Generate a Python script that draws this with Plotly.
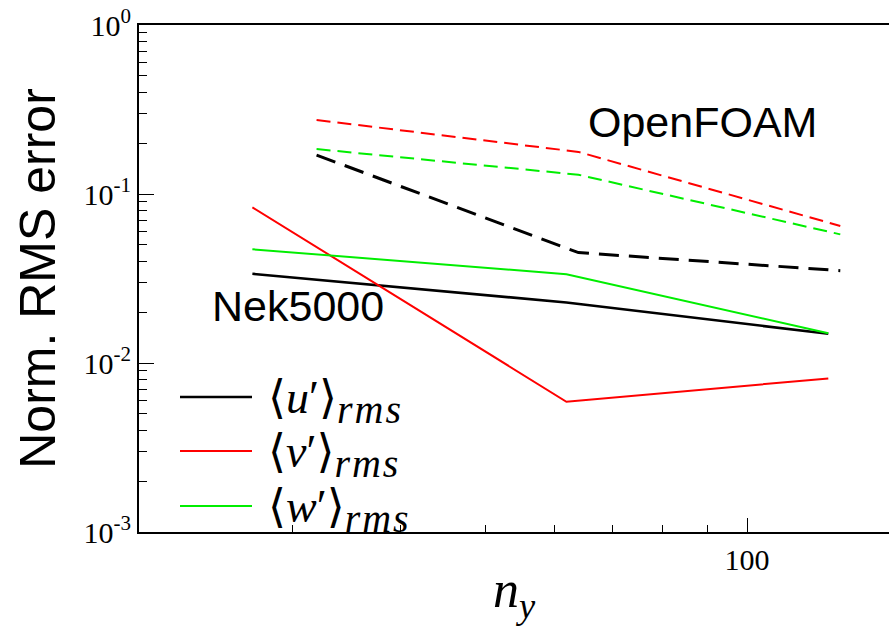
import plotly.graph_objects as go

# ---- data ----
ny_nek = [27, 62, 124]
nek_u = [0.0337, 0.0228, 0.0149]
nek_v = [0.0834, 0.0059, 0.0081]
nek_w = [0.0471, 0.0335, 0.0150]

ny_of = [32, 64, 128]
of_u = [0.170, 0.045, 0.0352]
of_v = [0.274, 0.1775, 0.0647]
of_w = [0.1845, 0.130, 0.0577]

SUB = "<sub><span style='font-size:40px;letter-spacing:2px'><i>rms</i></span></sub>"
legend_labels = ["⟨<i>u</i>′⟩" + SUB,
                 "⟨<i>v</i>′⟩" + SUB,
                 "⟨<i>w</i>′⟩" + SUB]
colors = ["#000000", "#ff0000", "#00ee00"]

x_major = [100]
x_major_text = ["100"]
x_minor = [30, 40, 50, 60, 70, 80, 90]
y_major = [0.001, 0.01, 0.1, 1]
y_major_text = ["10<sup>-3</sup>", "10<sup>-2</sup>", "10<sup>-1</sup>", "10<sup>0</sup>"]
y_minor = [m * 10 ** e for e in (-3, -2, -1) for m in range(2, 10)]

SERIF = "Liberation Serif, DejaVu Serif, serif"
SANS = "Liberation Sans, Arial, sans-serif"

fig = go.Figure()
nek_series = [nek_u, nek_v, nek_w]
of_series = [of_u, of_v, of_w]
widths = [2.6, 2, 2]
dashes = ["20px,10px", "14px,7px", "14px,7px"]
for i in range(3):
    fig.add_trace(go.Scatter(x=ny_nek, y=nek_series[i], mode="lines",
                             line=dict(color=colors[i], width=widths[i]),
                             showlegend=False))
    fig.add_trace(go.Scatter(x=ny_of, y=of_series[i], mode="lines",
                             line=dict(color=colors[i], width=widths[i] + (0.4 if i == 0 else 0),
                                       dash=dashes[i]),
                             showlegend=False))

W, H = 889, 626
L, R, T, B = 139, 0, 25, 94
pw, ph = W - L - R, H - T - B


def px(xp):
    return (xp - L) / pw


def py(yp):
    return (H - B - yp) / ph


# manual legend (keys + labels)
leg_y = [397, 451, 506]
for i in range(3):
    fig.add_shape(type="line", xref="paper", yref="paper",
                  x0=px(180), x1=px(252), y0=py(leg_y[i]), y1=py(leg_y[i]),
                  line=dict(color=colors[i], width=widths[i]))
    fig.add_annotation(xref="paper", yref="paper", x=px(266), y=py(leg_y[i] + 5),
                       xanchor="left", yanchor="middle", showarrow=False,
                       text=legend_labels[i], font=dict(family=SERIF, size=46, color="black"))

fig.add_annotation(xref="paper", yref="paper", x=px(298), y=py(306),
                   xanchor="center", yanchor="middle", showarrow=False,
                   text="Nek5000", font=dict(family=SANS, size=43, color="black"))
fig.add_annotation(xref="paper", yref="paper", x=px(702), y=py(122),
                   xanchor="center", yanchor="middle", showarrow=False,
                   text="OpenFOAM", font=dict(family=SANS, size=43, color="black"))

fig.update_xaxes(type="log", range=[1.30103, 2.1632], showgrid=False, zeroline=False,
                 showline=True, linecolor="black", linewidth=2, mirror=True,
                 ticks="inside", ticklen=14, tickwidth=1, tickcolor="black",
                 tickvals=x_major, ticktext=x_major_text,
                 tickfont=dict(family=SERIF, size=30, color="black"),
                 minor=dict(tickvals=x_minor, ticks="inside", ticklen=7, tickwidth=1,
                            tickcolor="black", showgrid=False),
                 title=dict(text="<i>n</i><sub><i>y</i></sub>",
                            font=dict(family=SERIF, size=52, color="black"), standoff=20))
fig.update_yaxes(type="log", range=[-3, 0], showgrid=False, zeroline=False,
                 showline=True, linecolor="black", linewidth=2, mirror=False,
                 ticks="inside", ticklen=15, tickwidth=1, tickcolor="black",
                 tickvals=y_major, ticktext=y_major_text,
                 tickfont=dict(family=SERIF, size=30, color="black"),
                 minor=dict(tickvals=y_minor, ticks="inside", ticklen=8, tickwidth=1,
                            tickcolor="black", showgrid=False),
                 title=dict(text="Norm. RMS error",
                            font=dict(family=SANS, size=50, color="black"), standoff=12))

fig.update_layout(width=W, height=H, margin=dict(l=L, r=R, t=T, b=B, autoexpand=False),
                  plot_bgcolor="white", paper_bgcolor="white", showlegend=False)

fig.write_html("out.html")
